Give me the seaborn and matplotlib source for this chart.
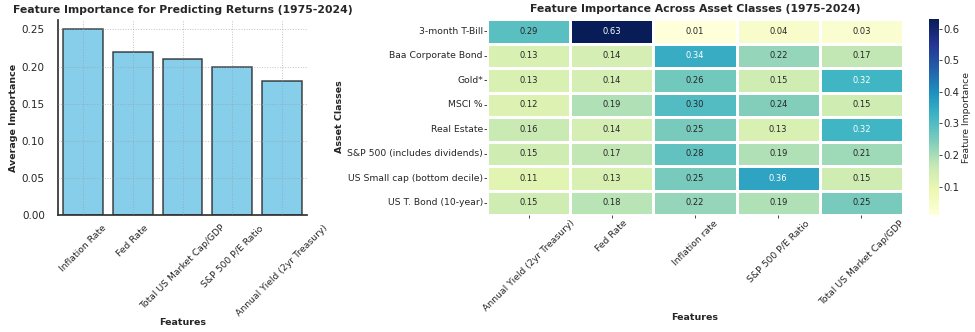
import numpy as np
import pandas as pd
import matplotlib
matplotlib.use("Agg")
import matplotlib.pyplot as plt
import seaborn as sns

# Average importance of each macro feature
features = ["Inflation Rate", "Fed Rate", "Total US Market Cap/GDP",
            "S&P 500 P/E Ratio", "Annual Yield (2yr Treasury)"]
avg_importance = [0.25, 0.22, 0.21, 0.20, 0.18]

# Importance per asset class (rows) and feature (columns)
asset_classes = ["3-month T-Bill", "Baa Corporate Bond", "Gold*", "MSCI %",
                 "Real Estate", "S&P 500 (includes dividends)",
                 "US Small cap (bottom decile)", "US T. Bond (10-year)"]
heat_features = ["Annual Yield (2yr Treasury)", "Fed Rate", "Inflation rate",
                 "S&P 500 P/E Ratio", "Total US Market Cap/GDP"]
t_bill = [0.29, 0.63, 0.01, 0.04, 0.03]
baa_bond = [0.13, 0.14, 0.34, 0.22, 0.17]
gold = [0.13, 0.14, 0.26, 0.15, 0.32]
msci = [0.12, 0.19, 0.30, 0.24, 0.15]
real_estate = [0.16, 0.14, 0.25, 0.13, 0.32]
sp500 = [0.15, 0.17, 0.28, 0.19, 0.21]
small_cap = [0.11, 0.13, 0.25, 0.36, 0.15]
t_bond = [0.15, 0.18, 0.22, 0.19, 0.25]

sns.set_theme(style="white")
plt.rcParams["font.family"] = ["DejaVu Sans"]

fig = plt.figure(figsize=(9.75, 3.32), dpi=100)
ax1 = fig.add_axes([0.0595, 0.3524, 0.2554, 0.587])
ax2 = fig.add_axes([0.4995, 0.3524, 0.4267, 0.590])
cax = fig.add_axes([0.9528, 0.3524, 0.0103, 0.590])

TITLE = 7.8
LABEL = 6.8
TICK = 6.7

# Bar chart
bar_df = pd.DataFrame({"Feature": features, "Importance": avg_importance})
sns.barplot(data=bar_df, x="Feature", y="Importance", ax=ax1,
            color="skyblue", edgecolor="black", linewidth=1.1, width=0.8,
            saturation=1)
for p in ax1.patches:
    p.set_edgecolor((0.1, 0.1, 0.1, 0.8))
ax1.set_ylim(0, 0.2625)
ax1.grid(True, linestyle=":", color="#999999", linewidth=0.7, alpha=0.6)
ax1.set_axisbelow(False)
sns.despine(ax=ax1)
ax1.spines["left"].set_color("#333333")
ax1.spines["bottom"].set_color("#333333")
ax1.set_title("Feature Importance for Predicting Returns (1975-2024)",
              fontsize=TITLE, fontweight="bold", pad=5)
ax1.set_xlabel("Features", fontsize=LABEL, fontweight="bold", labelpad=0)
ax1.set_ylabel("Average Importance", fontsize=LABEL, fontweight="bold",
               labelpad=3)
ax1.set_yticks([0, 0.05, 0.10, 0.15, 0.20, 0.25])
ax1.set_yticklabels([f"{v:.2f}" for v in [0, 0.05, 0.10, 0.15, 0.20, 0.25]])
ax1.tick_params(axis="y", labelsize=7.5, left=False, pad=3.5)
ax1.tick_params(axis="x", labelsize=TICK, rotation=45, bottom=False, pad=0)
for lbl in ax1.get_xticklabels():
    lbl.set_ha("center")

# Heatmap
heat_df = pd.DataFrame([t_bill, baa_bond, gold, msci, real_estate, sp500,
                        small_cap, t_bond],
                       index=asset_classes, columns=heat_features)
sns.heatmap(heat_df, ax=ax2, cbar_ax=cax, cmap="YlGnBu", annot=True,
            fmt=".2f", annot_kws={"fontsize": 6}, linewidths=1,
            linecolor="white",
            cbar_kws={"label": "Feature Importance"})
ax2.set_title("Feature Importance Across Asset Classes (1975-2024)",
              fontsize=TITLE, fontweight="bold", pad=5)
ax2.set_xlabel("Features", fontsize=LABEL, fontweight="bold", labelpad=0)
ax2.set_ylabel("Asset Classes", fontsize=LABEL, fontweight="bold", labelpad=2)
ax2.tick_params(axis="x", labelsize=TICK, rotation=45, bottom=True,
                length=2, width=0.6, pad=0.5)
ax2.tick_params(axis="y", labelsize=TICK, rotation=0, left=True,
                length=2, width=0.6, pad=1)
for lbl in ax2.get_xticklabels():
    lbl.set_ha("center")
cax.tick_params(labelsize=7.3, length=2, width=0.6, pad=1)
cax.set_ylabel("Feature Importance", fontsize=TICK, labelpad=2)

fig.savefig("out.png", dpi=100)
